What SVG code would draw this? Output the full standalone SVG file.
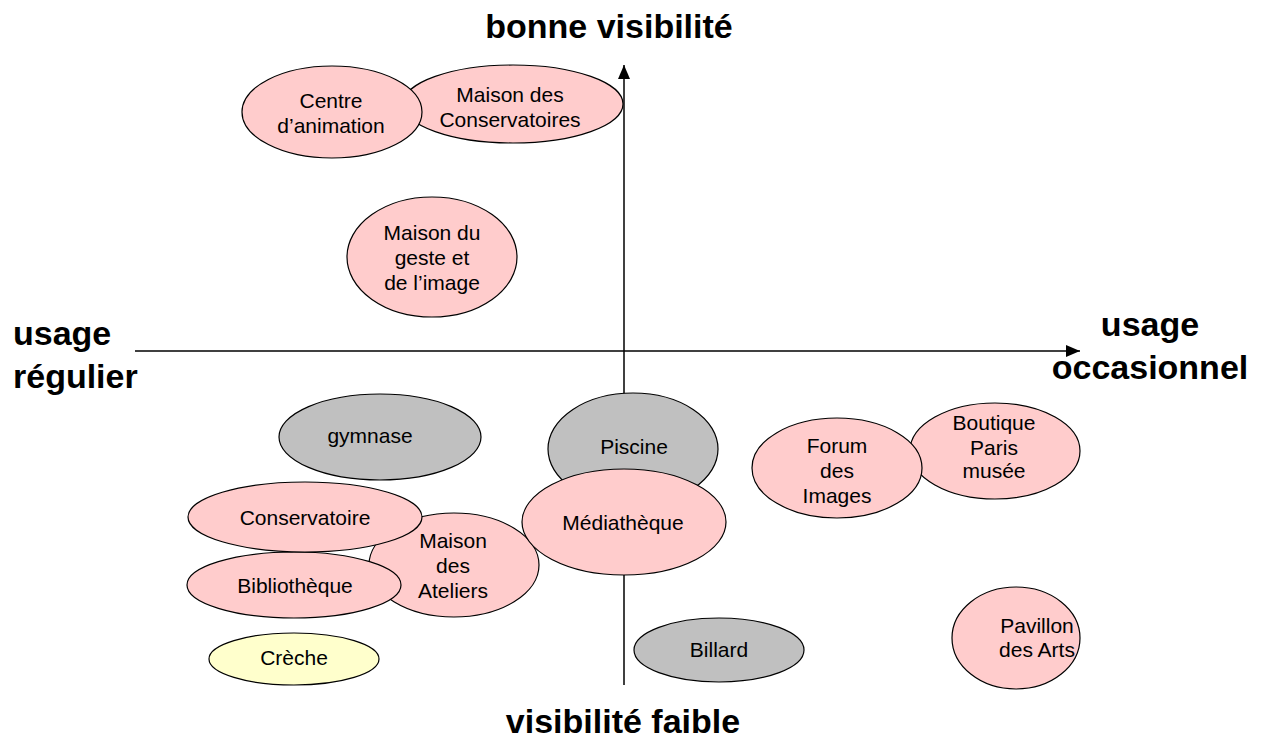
<svg xmlns="http://www.w3.org/2000/svg" width="1264" height="738" viewBox="0 0 1264 738">
<style>
.n{stroke:#000;stroke-width:1.2}
.p{fill:#FFCCCC}
.g{fill:#C0C0C0}
.y{fill:#FFFFCC}
.t{font-family:"Liberation Sans",Arial,sans-serif;font-size:21px;fill:#000;text-anchor:middle}
.a{font-family:"Liberation Sans",Arial,sans-serif;font-size:34px;font-weight:bold;fill:#000}
.ax{stroke:#000;stroke-width:1.5;fill:none}
</style>
<defs>
<marker id="arr" viewBox="0 0 10 10" refX="10" refY="5" markerWidth="8" markerHeight="8" markerUnits="userSpaceOnUse" orient="auto">
<path d="M0,0 L10,5 L0,10 z" fill="#000"/>
</marker>
<marker id="arr2" viewBox="0 0 14 12" refX="14" refY="6" markerWidth="14" markerHeight="12" markerUnits="userSpaceOnUse" orient="auto">
<path d="M0,0 L14,6 L0,12 z" fill="#000"/>
</marker>
</defs>
<rect width="1264" height="738" fill="#fff"/>
<g id="connectors">
<line class="ax" x1="624" y1="685" x2="624" y2="65" marker-end="url(#arr2)"/>
<line class="ax" x1="135" y1="351" x2="1080" y2="351" marker-end="url(#arr2)"/>
</g>
<g id="labels">
<text class="a" x="609" y="38" text-anchor="middle">bonne visibilité</text>
<text class="a" x="623" y="733" text-anchor="middle">visibilité faible</text>
<text class="a" x="13" y="345">usage</text>
<text class="a" x="13" y="388">régulier</text>
<text class="a" x="1150" y="336" text-anchor="middle">usage</text>
<text class="a" x="1150" y="379" text-anchor="middle">occasionnel</text>
</g>
<g id="maison-conservatoires"><ellipse class="n p" cx="513" cy="104" rx="110" ry="39"/><text class="t" x="510" y="102">Maison des</text><text class="t" x="510" y="127">Conservatoires</text></g>
<g id="centre-animation"><ellipse class="n p" cx="332" cy="112" rx="90" ry="46"/><text class="t" x="331" y="108">Centre</text><text class="t" x="331" y="133">d’animation</text></g>
<g id="maison-geste"><ellipse class="n p" cx="432" cy="257" rx="85" ry="60"/><text class="t" x="432" y="240">Maison du</text><text class="t" x="432" y="265">geste et</text><text class="t" x="432" y="290">de l’image</text></g>
<g id="gymnase"><ellipse class="n g" cx="380" cy="437" rx="101" ry="43"/><text class="t" x="370" y="443">gymnase</text></g>
<g id="piscine"><ellipse class="n g" cx="633" cy="449" rx="85" ry="56"/><text class="t" x="634" y="454">Piscine</text></g>
<g id="maison-ateliers"><ellipse class="n p" cx="454" cy="565" rx="85" ry="52"/><text class="t" x="453" y="548">Maison</text><text class="t" x="453" y="573">des</text><text class="t" x="453" y="598">Ateliers</text></g>
<g id="mediatheque"><ellipse class="n p" cx="624" cy="522" rx="102" ry="53"/><text class="t" x="623" y="530">Médiathèque</text></g>
<g id="bibliotheque"><ellipse class="n p" cx="294" cy="585" rx="107" ry="33"/><text class="t" x="295" y="593">Bibliothèque</text></g>
<g id="conservatoire"><ellipse class="n p" cx="305" cy="517" rx="117" ry="35"/><text class="t" x="305" y="525">Conservatoire</text></g>
<g id="creche"><ellipse class="n y" cx="294" cy="659" rx="85" ry="26"/><text class="t" x="294" y="665">Crèche</text></g>
<g id="billard"><ellipse class="n g" cx="719" cy="650" rx="85" ry="32"/><text class="t" x="719" y="657">Billard</text></g>
<g id="boutique"><ellipse class="n p" cx="995" cy="451" rx="85" ry="48"/><text class="t" x="994" y="430">Boutique</text><text class="t" x="994" y="455">Paris</text><text class="t" x="994" y="478">musée</text></g>
<g id="forum"><ellipse class="n p" cx="837" cy="468" rx="85" ry="50"/><text class="t" x="837" y="453">Forum</text><text class="t" x="837" y="478">des</text><text class="t" x="837" y="503">Images</text></g>
<g id="pavillon"><ellipse class="n p" cx="1016" cy="638" rx="64" ry="51"/><text class="t" x="1037" y="633">Pavillon</text><text class="t" x="1037" y="657">des Arts</text></g>
</svg>
